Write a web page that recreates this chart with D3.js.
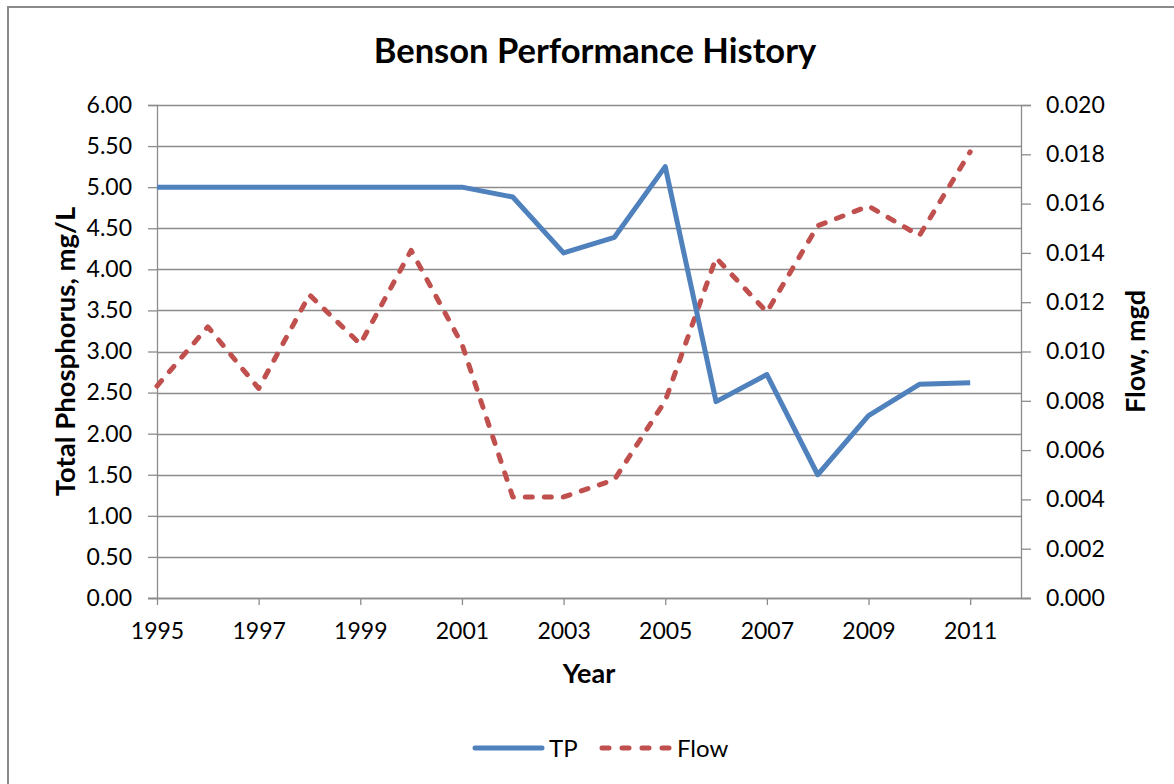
<!DOCTYPE html>
<html>
<head>
<meta charset="utf-8">
<script src="https://cdn.jsdelivr.net/npm/d3@7"></script>
<style>
  html, body { margin: 0; padding: 0; background: #fff; }
  svg { display: block; }
  text { font-family: Lato, "Open Sans", "DejaVu Sans", sans-serif; fill: #000; }
</style>
</head>
<body>
<svg id="chart" width="1174" height="784"></svg>
<script>
const years = [1995,1996,1997,1998,1999,2000,2001,2002,2003,2004,2005,2006,2007,2008,2009,2010,2011];
const tpValues = [5.00,5.00,5.00,5.00,5.00,5.00,5.00,4.88,4.20,4.39,5.25,2.39,2.72,1.50,2.22,2.60,2.62];
const flowValues = [0.0086,0.0110,0.0085,0.0123,0.0103,0.0141,0.0103,0.0041,0.0041,0.0048,0.0080,0.0138,0.0116,0.0151,0.0159,0.0147,0.0181];
const xTickLabels = [1995,1997,1999,2001,2003,2005,2007,2009,2011];
const leftTicks = [0,0.5,1,1.5,2,2.5,3,3.5,4,4.5,5,5.5,6];
const rightTicks = [0,0.002,0.004,0.006,0.008,0.010,0.012,0.014,0.016,0.018,0.020];
const chartTitle = "Benson Performance History";
const xTitle = "Year";
const yLeftTitle = "Total Phosphorus, mg/L";
const yRightTitle = "Flow, mgd";
const seriesNames = ["TP", "Flow"];

(function () {
const svg = d3.select("#chart");
const pL = 157, pR = 1021, pT = 105, pB = 598;
const tpColor = "#4F81BD", flowColor = "#C0504D", gridColor = "#8c8c8c";
const tickFont = "Lato, 'Open Sans', sans-serif";
const tickSize = 23;

// outer border
svg.append("rect").attr("x", 8).attr("y", 7).attr("width", 1180).attr("height", 800)
  .attr("fill", "none").attr("stroke", "#8a8a8a").attr("stroke-width", 2);

const x = d3.scaleLinear().domain([1995, 2012]).range([pL, pR]);
const yL = d3.scaleLinear().domain([0, 6]).range([pB, pT]);
const yR = d3.scaleLinear().domain([0, 0.020]).range([pB, pT]);

// gridlines
svg.append("g").selectAll("line").data(leftTicks).join("line")
  .attr("x1", pL).attr("x2", pR)
  .attr("y1", d => Math.round(yL(d)) + 0.5).attr("y2", d => Math.round(yL(d)) + 0.5)
  .attr("stroke", gridColor).attr("stroke-width", 1.3);

// left axis
const gL = svg.append("g").attr("transform", `translate(${pL},0)`)
  .call(d3.axisLeft(yL).tickValues(leftTicks).tickFormat(d3.format(".2f")).tickSize(9).tickPadding(16));
gL.select(".domain").attr("stroke", gridColor).attr("stroke-width", 1.3);
gL.selectAll(".tick line").attr("stroke", gridColor).attr("stroke-width", 1.3);
gL.selectAll(".tick text").attr("font-size", tickSize).attr("fill", "#000").style("font-family", tickFont);

// right axis
const gR = svg.append("g").attr("transform", `translate(${pR},0)`)
  .call(d3.axisRight(yR).tickValues(rightTicks).tickFormat(d3.format(".3f")).tickSize(10).tickPadding(15));
gR.select(".domain").attr("stroke", gridColor).attr("stroke-width", 1.3);
gR.selectAll(".tick line").attr("stroke", gridColor).attr("stroke-width", 1.3);
gR.selectAll(".tick text").attr("font-size", tickSize).attr("fill", "#000").style("font-family", tickFont);

// bottom axis
const gX = svg.append("g").attr("transform", `translate(0,${pB})`)
  .call(d3.axisBottom(x).tickValues(xTickLabels).tickFormat(d3.format("d")).tickSize(7).tickPadding(18));
gX.select(".domain").attr("stroke", gridColor).attr("stroke-width", 1.3)
  .attr("d", `M${pL - 9},0.5H${pR + 10}`);
gX.selectAll(".tick line").attr("stroke", gridColor).attr("stroke-width", 1.3);
gX.selectAll(".tick text").attr("font-size", tickSize).attr("fill", "#000").style("font-family", tickFont);

// lines
const tpLine = d3.line().x((d, i) => x(years[i])).y(d => yL(d));
const flowLine = d3.line().x((d, i) => x(years[i])).y(d => yR(d));

svg.append("path").datum(flowValues).attr("d", flowLine)
  .attr("fill", "none").attr("stroke", flowColor).attr("stroke-width", 5)
  .attr("stroke-dasharray", "7,12").attr("stroke-linecap", "round").attr("stroke-linejoin", "round");
svg.append("path").datum(tpValues).attr("d", tpLine)
  .attr("fill", "none").attr("stroke", tpColor).attr("stroke-width", 5)
  .attr("stroke-linejoin", "round");

// titles
svg.append("text").attr("x", 595).attr("y", 63).attr("text-anchor", "middle")
  .attr("font-size", 34.5).attr("font-weight", "bold").text(chartTitle);
svg.append("text").attr("x", 589).attr("y", 683).attr("text-anchor", "middle")
  .attr("font-size", 27).attr("font-weight", "bold").text(xTitle);
svg.append("text").attr("transform", `translate(75,${(pT + pB) / 2}) rotate(-90)`)
  .attr("text-anchor", "middle").attr("font-size", 27.5).attr("font-weight", "bold").text(yLeftTitle);
svg.append("text").attr("transform", `translate(1145,${(pT + pB) / 2}) rotate(-90)`)
  .attr("text-anchor", "middle").attr("font-size", 27).attr("font-weight", "bold").text(yRightTitle);

// legend
const lg = svg.append("g");
lg.append("line").attr("x1", 475).attr("x2", 542).attr("y1", 748).attr("y2", 748)
  .attr("stroke", tpColor).attr("stroke-width", 5).attr("stroke-linecap", "round");
lg.append("text").attr("x", 549).attr("y", 757).attr("font-size", 24).text(seriesNames[0]);
lg.append("line").attr("x1", 602).attr("x2", 670).attr("y1", 748).attr("y2", 748)
  .attr("stroke", flowColor).attr("stroke-width", 5).attr("stroke-linecap", "round")
  .attr("stroke-dasharray", "7,13");
lg.append("text").attr("x", 677).attr("y", 757).attr("font-size", 24).text(seriesNames[1]);
})();
</script>
</body>
</html>
